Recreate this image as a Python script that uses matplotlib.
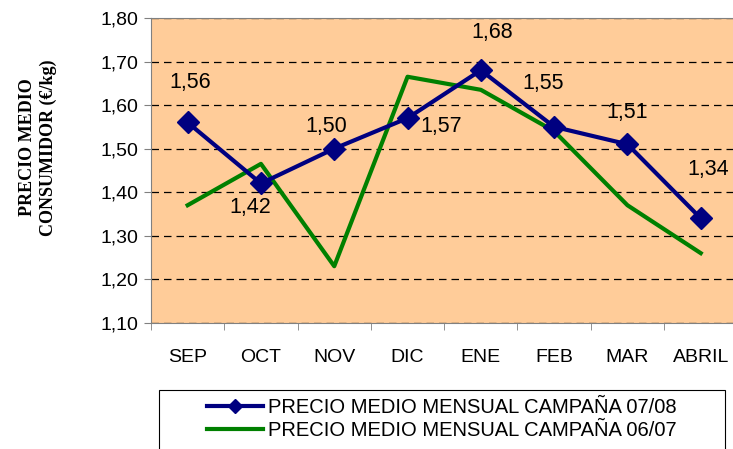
import matplotlib.pyplot as plt
from matplotlib.patches import Rectangle
from matplotlib.ticker import FixedLocator, FuncFormatter

# Datos
meses = ["SEP", "OCT", "NOV", "DIC", "ENE", "FEB", "MAR", "ABRIL"]
precio_0708 = [1.56, 1.42, 1.50, 1.57, 1.68, 1.55, 1.51, 1.34]
precio_0607 = [1.37, 1.465, 1.23, 1.665, 1.635, 1.54, 1.37, 1.26]

# desplazamiento de las etiquetas (puntos)
offsets = [(2, 29), (-8, -17), (-6, 16), (24, -6), (8, 27), (-8, 31), (0, 23), (5, 35)]

plt.rcParams['font.family'] = ['Liberation Sans', 'DejaVu Sans']

fig = plt.figure(figsize=(7.33, 4.49), dpi=100)
ax = fig.add_axes([0.206, 0.281, 0.80, 0.679])
ax.set_facecolor("#FFCC99")

x = list(range(len(meses)))
l1, = ax.plot(x, precio_0708, color="#000080", lw=3, marker="D", markersize=11,
              label="PRECIO MEDIO MENSUAL CAMPAÑA 07/08", zorder=4)
l2, = ax.plot(x, precio_0607, color="#008000", lw=3,
              label="PRECIO MEDIO MENSUAL CAMPAÑA 06/07", zorder=3)

for xi, v, off in zip(x, precio_0708, offsets):
    ax.annotate(f"{v:.2f}".replace(".", ","), (xi, v), xytext=off,
                textcoords="offset points", ha="center", va="center", fontsize=15.5)

ax.set_xlim(-0.5, 7.5)
ax.set_ylim(1.10, 1.80)
ax.set_yticks([1.1 + 0.1 * i for i in range(8)])
ax.yaxis.set_major_formatter(FuncFormatter(lambda v, p: f"{v:.2f}".replace(".", ",")))
ax.set_xticks(x)
ax.set_xticklabels(meses)
ax.xaxis.set_minor_locator(FixedLocator([i + 0.5 for i in range(-1, 8)]))
ax.tick_params(axis="x", which="major", length=0, pad=19, labelsize=14)
ax.tick_params(axis="x", which="minor", length=5, color="#808080")
ax.tick_params(axis="y", length=5, color="#808080", labelsize=14, pad=4)
ax.yaxis.grid(True, color="black", linestyle=(0, (6, 4)), lw=0.9)
for s in ax.spines.values():
    s.set_color("#808080")

fig.text(0.052, 0.672, "PRECIO MEDIO\nCONSUMIDOR (€/kg)", rotation=90, ha="center",
         va="center", fontsize=13, fontweight="bold", family="Liberation Serif",
         linespacing=1.3)

# marco de la leyenda
fig.patches.append(Rectangle((159 / 733, -0.05), (725 - 159) / 733, 0.05 + 1 - 390 / 449,
                             transform=fig.transFigure, fill=False, edgecolor="black",
                             lw=0.8))
leg = fig.legend(handles=[l1, l2], loc="upper left", bbox_to_anchor=(207 / 733, 1 - 398 / 449),
                 frameon=False, fontsize=14.5, handlelength=2.8,
                 borderpad=0, labelspacing=0.2, handletextpad=0.25,
                 borderaxespad=0)
leg.legend_handles[0].set_markersize(7)

fig.savefig("out.png", dpi=100)
